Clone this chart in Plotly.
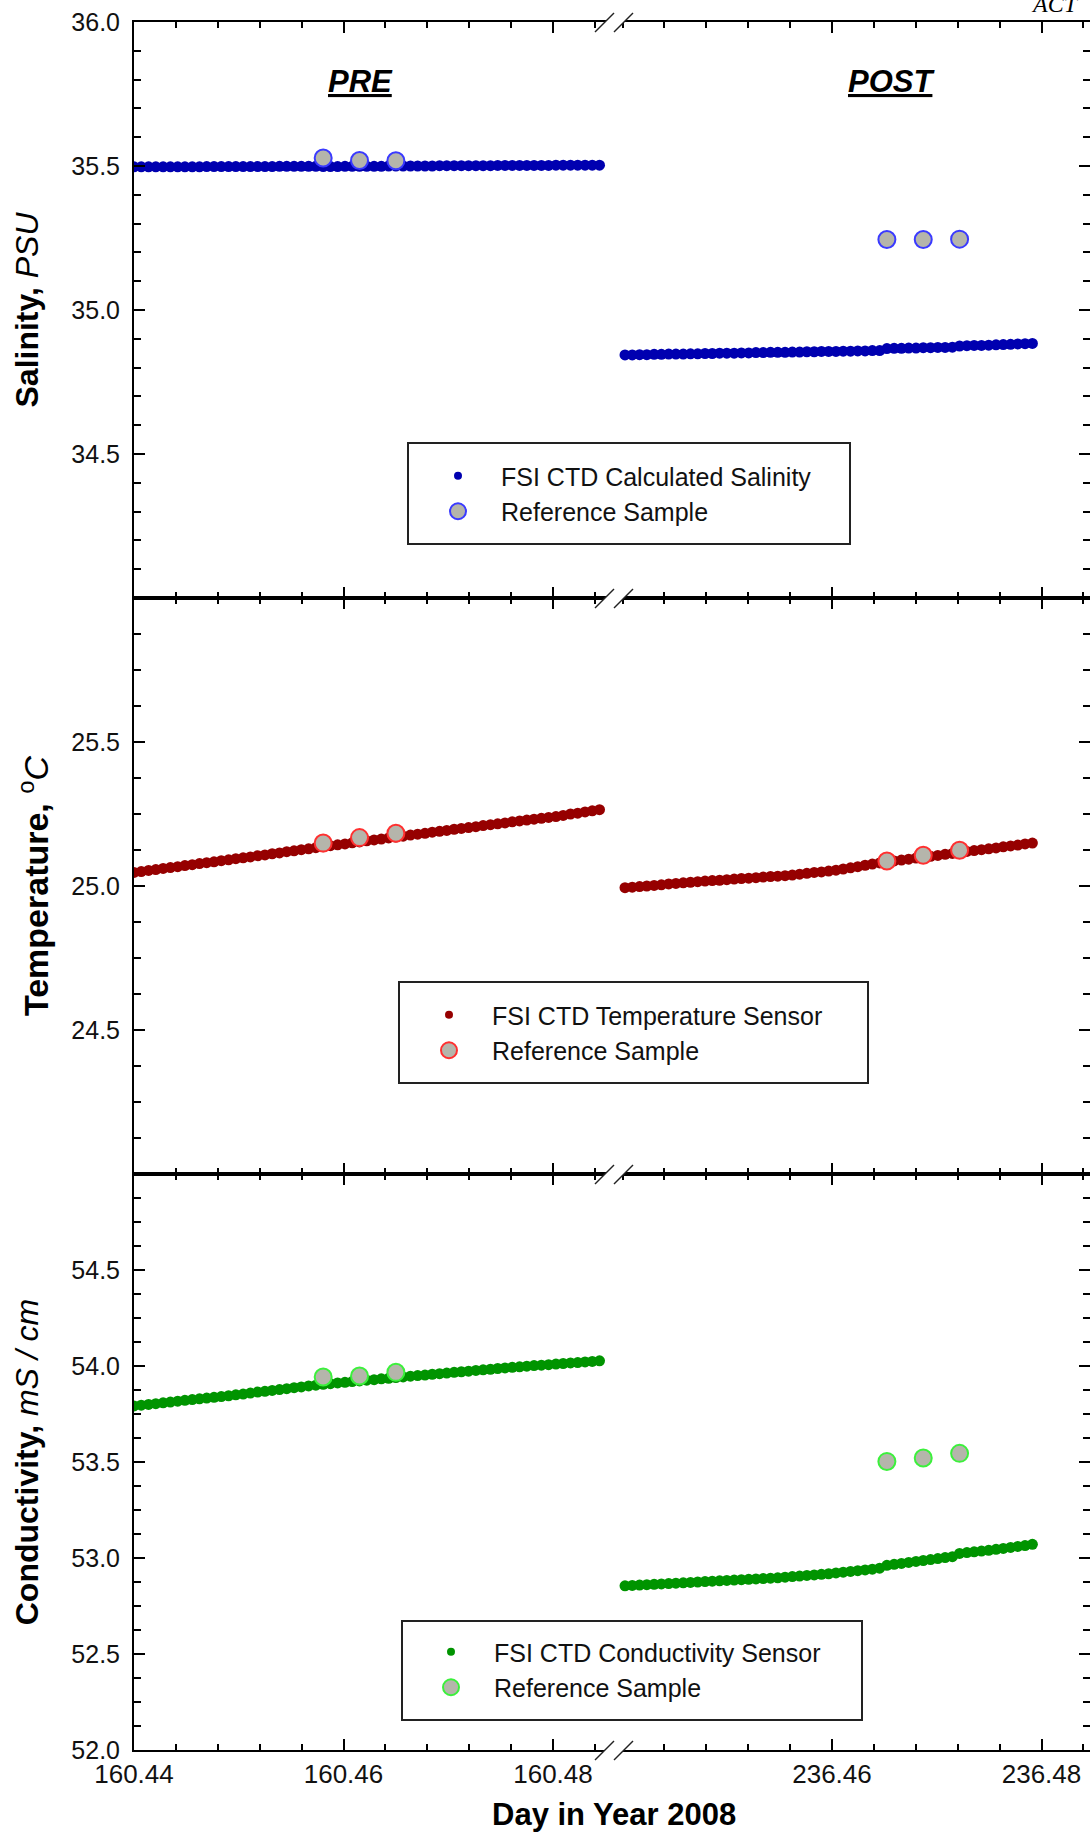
import plotly.graph_objects as go

# ------------------------------------------------------------------ data
pre_time = [160.44000, 160.44069, 160.44139, 160.44208, 160.44278, 160.44347, 160.44417, 160.44486,
            160.44556, 160.44625, 160.44694, 160.44764, 160.44833, 160.44903, 160.44972, 160.45042,
            160.45111, 160.45181, 160.45250, 160.45319, 160.45389, 160.45458, 160.45528, 160.45597,
            160.45667, 160.45736, 160.45806, 160.45875, 160.45944, 160.46014, 160.46083, 160.46153,
            160.46222, 160.46292, 160.46361, 160.46431, 160.46500, 160.46569, 160.46639, 160.46708,
            160.46778, 160.46847, 160.46917, 160.46986, 160.47056, 160.47125, 160.47194, 160.47264,
            160.47333, 160.47403, 160.47472, 160.47542, 160.47611, 160.47681, 160.47750, 160.47819,
            160.47889, 160.47958, 160.48028, 160.48097, 160.48167, 160.48236, 160.48306, 160.48375,
            160.48444]
post_time = [236.44024, 236.44093, 236.44163, 236.44232, 236.44302, 236.44371, 236.44441, 236.44510,
             236.44580, 236.44649, 236.44718, 236.44788, 236.44857, 236.44927, 236.44996, 236.45066,
             236.45135, 236.45205, 236.45274, 236.45343, 236.45413, 236.45482, 236.45552, 236.45621,
             236.45691, 236.45760, 236.45830, 236.45899, 236.45968, 236.46038, 236.46107, 236.46177,
             236.46246, 236.46316, 236.46385, 236.46455, 236.46524, 236.46593, 236.46663, 236.46732,
             236.46802, 236.46871, 236.46941, 236.47010, 236.47080, 236.47149, 236.47218, 236.47288,
             236.47357, 236.47427, 236.47496, 236.47566, 236.47635, 236.47705, 236.47774, 236.47843,
             236.47913]
pre_sample_time = [160.45806, 160.46153, 160.46500]
post_sample_time = [236.46524, 236.46871, 236.47218]

sal_pre = [35.497, 35.497, 35.497, 35.497, 35.497, 35.497, 35.497, 35.497, 35.497, 35.497,
           35.498, 35.498, 35.498, 35.498, 35.498, 35.498, 35.498, 35.498, 35.498, 35.498,
           35.499, 35.499, 35.499, 35.499, 35.499, 35.499, 35.498, 35.498, 35.498, 35.499,
           35.499, 35.499, 35.499, 35.499, 35.499, 35.500, 35.500, 35.500, 35.500, 35.500,
           35.500, 35.500, 35.501, 35.501, 35.501, 35.501, 35.501, 35.501, 35.501, 35.501,
           35.502, 35.502, 35.502, 35.502, 35.502, 35.502, 35.502, 35.502, 35.503, 35.503,
           35.503, 35.503, 35.503, 35.503, 35.503]
sal_post = [34.844, 34.844, 34.845, 34.845, 34.846, 34.846, 34.847, 34.847, 34.847, 34.848,
            34.848, 34.849, 34.849, 34.850, 34.850, 34.850, 34.851, 34.851, 34.852, 34.852,
            34.853, 34.853, 34.853, 34.854, 34.854, 34.855, 34.855, 34.856, 34.856, 34.856,
            34.857, 34.857, 34.858, 34.858, 34.859, 34.859, 34.866, 34.867, 34.867, 34.868,
            34.868, 34.869, 34.869, 34.870, 34.870, 34.871, 34.875, 34.876, 34.877, 34.877,
            34.878, 34.879, 34.880, 34.881, 34.882, 34.883, 34.884]
sal_ref_pre = [35.528, 35.519, 35.518]
sal_ref_post = [35.245, 35.245, 35.246]

temp_pre = [25.047, 25.050, 25.054, 25.057, 25.061, 25.064, 25.067, 25.071, 25.074, 25.078,
            25.081, 25.084, 25.088, 25.091, 25.095, 25.098, 25.101, 25.105, 25.108, 25.112,
            25.115, 25.119, 25.122, 25.126, 25.129, 25.133, 25.136, 25.140, 25.143, 25.146,
            25.150, 25.153, 25.157, 25.160, 25.163, 25.167, 25.170, 25.173, 25.177, 25.180,
            25.183, 25.187, 25.190, 25.193, 25.197, 25.200, 25.203, 25.206, 25.210, 25.213,
            25.216, 25.219, 25.223, 25.226, 25.229, 25.232, 25.235, 25.238, 25.241, 25.245,
            25.250, 25.253, 25.257, 25.261, 25.265]
temp_post = [24.994, 24.996, 24.998, 25.000, 25.002, 25.004, 25.007, 25.009, 25.011, 25.013,
             25.015, 25.017, 25.019, 25.020, 25.022, 25.024, 25.026, 25.027, 25.029, 25.031,
             25.033, 25.034, 25.036, 25.038, 25.041, 25.044, 25.047, 25.049, 25.052, 25.055,
             25.059, 25.063, 25.067, 25.072, 25.076, 25.080, 25.083, 25.087, 25.090, 25.093,
             25.097, 25.100, 25.103, 25.106, 25.110, 25.113, 25.116, 25.120, 25.123, 25.126,
             25.129, 25.132, 25.136, 25.139, 25.142, 25.146, 25.149]
temp_ref_pre = [25.149, 25.168, 25.183]
temp_ref_post = [25.087, 25.107, 25.124]

cond_pre = [53.792, 53.796, 53.800, 53.804, 53.808, 53.812, 53.817, 53.821, 53.825, 53.829,
            53.833, 53.837, 53.841, 53.845, 53.850, 53.854, 53.859, 53.864, 53.868, 53.873,
            53.877, 53.882, 53.887, 53.891, 53.896, 53.900, 53.905, 53.908, 53.912, 53.915,
            53.919, 53.922, 53.926, 53.929, 53.933, 53.936, 53.940, 53.943, 53.947, 53.950,
            53.953, 53.957, 53.960, 53.963, 53.967, 53.970, 53.973, 53.977, 53.980, 53.983,
            53.987, 53.990, 53.993, 53.996, 53.999, 54.002, 54.004, 54.007, 54.010, 54.013,
            54.016, 54.018, 54.021, 54.024, 54.027]
cond_post = [52.855, 52.857, 52.859, 52.861, 52.863, 52.865, 52.867, 52.869, 52.871, 52.873,
             52.875, 52.877, 52.879, 52.881, 52.883, 52.885, 52.887, 52.889, 52.891, 52.893,
             52.895, 52.897, 52.900, 52.903, 52.906, 52.909, 52.912, 52.915, 52.918, 52.922,
             52.926, 52.930, 52.934, 52.938, 52.942, 52.947, 52.962, 52.967, 52.972, 52.977,
             52.982, 52.987, 52.992, 52.997, 53.002, 53.007, 53.024, 53.028, 53.032, 53.036,
             53.040, 53.045, 53.050, 53.055, 53.060, 53.065, 53.071]
cond_ref_pre = [53.943, 53.948, 53.967]
cond_ref_post = [53.503, 53.521, 53.545]

sal_ticks = [34.5, 35.0, 35.5, 36.0]
temp_ticks = [24.5, 25.0, 25.5]
cond_ticks = [52.0, 52.5, 53.0, 53.5, 54.0, 54.5]
x_ticks_pre = [160.44, 160.46, 160.48]
x_ticks_post = [236.46, 236.48]

series_names = ["FSI CTD Calculated Salinity", "FSI CTD Temperature Sensor", "FSI CTD Conductivity Sensor"]
sample_name = "Reference Sample"
y_titles = ["<b>Salinity,</b> <i>PSU</i>",
            "<b>Temperature,</b> <sup>o</sup><i>C</i>",
            "<b>Conductivity,</b> <i>mS / cm</i>"]

# ------------------------------------------------------------------ geometry / style
W, H = 1090, 1833
ML, MR, MT, MB = 134, 0, 22, 83
PW, PH = W - ML - MR, H - MT - MB
BREAK_PX = 614
PX_PER_DAY = 10475.0


def fx(px):
    return (px - ML) / PW


def fy(py):
    return (H - MB - py) / PH


SPLIT = fx(BREAK_PX)
x_range_pre = [160.44, 160.44 + (BREAK_PX - ML) / PX_PER_DAY]
x_range_post = [236.46 - (832 - BREAK_PX) / PX_PER_DAY, 236.46 + (W - MR - 832) / PX_PER_DAY]

FONT = "Liberation Sans, Arial, sans-serif"
dot_colors = ["#0000B0", "#960000", "#009400"]
ring_colors = ["#3A3AFF", "#FF3030", "#3CF03C"]
fill_gray = "#B5B5AB"

panels = [
    dict(pre=sal_pre, post=sal_post, rpre=sal_ref_pre, rpost=sal_ref_post,
         rng=[34.0, 36.0], ticks=sal_ticks, minor=0.1),
    dict(pre=temp_pre, post=temp_post, rpre=temp_ref_pre, rpost=temp_ref_post,
         rng=[24.0, 26.0], ticks=temp_ticks, minor=0.125),
    dict(pre=cond_pre, post=cond_post, rpre=cond_ref_pre, rpost=cond_ref_post,
         rng=[52.0, 55.0], ticks=cond_ticks, minor=0.125),
]
row_domains = [[2 / 3, 1.0], [1 / 3, 2 / 3], [0.0, 1 / 3]]
title_standoff = [23, 12, 23]
title_size = [32, 34, 32]
legend_pos = [(415, 453), (406, 992), (408, 1629)]   # top-left px of legend content
legend_boxes = [(408, 443, 850, 544), (399, 982, 868, 1083), (402, 1621, 862, 1720)]

fig = go.Figure()
layout = dict(width=W, height=H, margin=dict(l=ML, r=MR, t=MT, b=MB),
              paper_bgcolor="white", plot_bgcolor="white", showlegend=True,
              font=dict(family=FONT, color="black"))


def axname(kind, i):
    return kind + ("" if i == 1 else str(i))


shapes = []
annotations = []

for p, pan in enumerate(panels):
    a, b = 2 * p + 1, 2 * p + 2
    leg = "legend" if p == 0 else f"legend{p + 1}"
    xa, ya = axname("x", a), axname("y", a)
    xb, yb = axname("x", b), axname("y", b)

    # CTD dots
    fig.add_trace(go.Scatter(x=pre_time, y=pan["pre"], mode="markers", xaxis=xa, yaxis=ya,
                             marker=dict(size=11, color=dot_colors[p]), showlegend=False,
                             hoverinfo="x+y"))
    fig.add_trace(go.Scatter(x=post_time, y=pan["post"], mode="markers", xaxis=xb, yaxis=yb,
                             marker=dict(size=11, color=dot_colors[p]), showlegend=False,
                             hoverinfo="x+y"))
    # reference samples
    ref_marker = dict(size=17, color=fill_gray, line=dict(color=ring_colors[p], width=2))
    fig.add_trace(go.Scatter(x=pre_sample_time, y=pan["rpre"], mode="markers", xaxis=xa, yaxis=ya,
                             marker=ref_marker, showlegend=False))
    fig.add_trace(go.Scatter(x=post_sample_time, y=pan["rpost"], mode="markers", xaxis=xb, yaxis=yb,
                             marker=ref_marker, showlegend=False))
    # legend entries
    fig.add_trace(go.Scatter(x=[None], y=[None], mode="markers", xaxis=xa, yaxis=ya,
                             marker=dict(size=8, color=dot_colors[p]), name=series_names[p],
                             legend=leg, showlegend=True))
    fig.add_trace(go.Scatter(x=[None], y=[None], mode="markers", xaxis=xa, yaxis=ya,
                             marker=ref_marker, name=sample_name, legend=leg, showlegend=True))

    common_x = dict(showgrid=False, zeroline=False, showline=True, linewidth=2, linecolor="black",
                    mirror="ticks", ticks="inside", ticklen=11, tickwidth=1.5, tickcolor="black",
                    tickformat=".2f", tickfont=dict(size=26, family=FONT, color="#111"),
                    showticklabels=(p == 2))
    layout[axname("xaxis", a)] = dict(common_x, domain=[0, SPLIT], range=x_range_pre, anchor=ya,
                                      tickvals=x_ticks_pre,
                                      minor=dict(ticks="inside", ticklen=6, tickwidth=1.5,
                                                 tickcolor="black", dtick=0.004, tick0=160.44))
    layout[axname("xaxis", b)] = dict(common_x, domain=[SPLIT, 1], range=x_range_post, anchor=yb,
                                      tickvals=x_ticks_post,
                                      minor=dict(ticks="inside", ticklen=6, tickwidth=1.5,
                                                 tickcolor="black", dtick=0.004, tick0=236.44))
    common_y = dict(showgrid=False, zeroline=False, range=pan["rng"], domain=row_domains[p],
                    ticks="inside", ticklen=11, tickwidth=1.5, tickcolor="black",
                    tickvals=pan["ticks"], tickformat=".1f",
                    minor=dict(ticks="inside", ticklen=7, tickwidth=1.5, tickcolor="black",
                               dtick=pan["minor"], tick0=pan["rng"][0]))
    layout[axname("yaxis", a)] = dict(common_y, anchor=xa, side="left", showline=True, linewidth=2,
                                      linecolor="black", mirror=False,
                                      tickfont=dict(size=25, family=FONT, color="#111"),
                                      ticklabelstandoff=7,
                                      title=dict(text=y_titles[p],
                                                 font=dict(size=title_size[p], family=FONT),
                                                 standoff=title_standoff[p]))
    layout[axname("yaxis", b)] = dict(common_y, anchor=xb, side="right", showline=False,
                                      showticklabels=False)

    # legend (content only) + its frame
    lx, ly = legend_pos[p]
    layout[leg] = dict(x=fx(lx), y=fy(ly), xanchor="left", yanchor="top", xref="paper", yref="paper",
                       bgcolor="rgba(0,0,0,0)", borderwidth=0, itemwidth=76, tracegroupgap=0,
                       itemsizing="trace", font=dict(size=25, family=FONT, color="#111"))
    x0, y0, x1, y1 = legend_boxes[p]
    shapes.append(dict(type="rect", xref="paper", yref="paper", x0=fx(x0), x1=fx(x1),
                       y0=fy(y1), y1=fy(y0), line=dict(color="#222", width=2),
                       fillcolor="rgba(0,0,0,0)", layer="above"))

# axis-break marks on every horizontal axis line
for ay in [22, 598, 1174, 1750]:
    path = (f"M{fx(595)},{fy(ay + 10)} L{fx(614)},{fy(ay - 9)} "
            f"L{fx(633)},{fy(ay - 9)} L{fx(614)},{fy(ay + 10)} Z")
    shapes.append(dict(type="path", xref="paper", yref="paper", path=path,
                       fillcolor="white", line=dict(width=0), layer="above"))
    for sx in (595, 614):
        shapes.append(dict(type="line", xref="paper", yref="paper",
                           x0=fx(sx), y0=fy(ay + 10), x1=fx(sx + 19), y1=fy(ay - 9),
                           line=dict(color="#222", width=1.5), layer="above"))

annotations += [
    dict(text="<b><i><u>PRE</u></i></b>", xref="paper", yref="paper", x=fx(360), y=fy(82),
         xanchor="center", yanchor="middle", showarrow=False, font=dict(size=31, family=FONT)),
    dict(text="<b><i><u>POST</u></i></b>", xref="paper", yref="paper", x=fx(891), y=fy(82),
         xanchor="center", yanchor="middle", showarrow=False, font=dict(size=31, family=FONT)),
    dict(text="<i>ACT</i>", xref="paper", yref="paper", x=fx(1055), y=fy(19),
         xanchor="center", yanchor="bottom", showarrow=False,
         font=dict(size=24, family="Liberation Serif, Times New Roman, serif")),
    dict(text="<b>Day in Year 2008</b>", xref="paper", yref="paper", x=fx(614), y=fy(1814),
         xanchor="center", yanchor="middle", showarrow=False, font=dict(size=31, family=FONT)),
]

layout["shapes"] = shapes
layout["annotations"] = annotations
fig.update_layout(**layout)
fig.write_html("out.html", config={"displayModeBar": False},
               post_script="document.body.style.margin='0px';document.body.style.padding='0px';")
